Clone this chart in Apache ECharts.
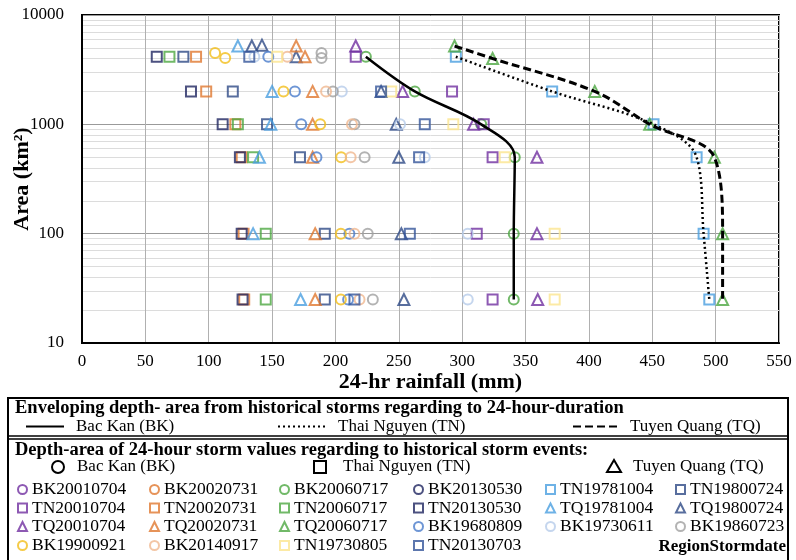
<!DOCTYPE html>
<html>
<head>
<meta charset="utf-8">
<script src="https://cdn.jsdelivr.net/npm/echarts@6/dist/echarts.min.js"></script>
<style>
  html, body { margin: 0; padding: 0; background: #fff; }
  #chart { width: 796px; height: 560px; }
</style>
</head>
<body>
<div id="chart"></div>
<script>
// x axis ticks (mm) and y axis ticks (km2)
var xTicks = [0, 50, 100, 150, 200, 250, 300, 350, 400, 450, 500, 550];
var yTicks = [10, 100, 1000, 10000];

// enveloping curves, [rainfall mm, area km2]
var envBK = [[224, 4150], [262.6, 2000], [315, 1000], [341.5, 500], [340.7, 100], [340.7, 25]];
var envTN = [[295, 4150], [371, 2000], [451, 1000], [485, 500], [490.5, 100], [495, 25]];
var envTQ = [[294, 5200], [324, 4000], [404.6, 2000], [448, 1000], [499, 500], [505.5, 100], [505.5, 25]];

// storm events, [rainfall mm, area km2]
var BK20010704 = [];
var BK20020731 = [];
var BK20060717 = [[224, 4150], [262.6, 2000], [315, 1000], [341.5, 500], [340.7, 100], [340.7, 25]];
var BK20130530 = [];
var TN19781004 = [[295, 4150], [371, 2000], [451, 1000], [485, 500], [490.5, 100], [495, 25]];
var TN19800724 = [[80, 4150], [119, 2000], [146, 1000], [172, 500], [191.6, 100], [191.6, 25]];
var TN20010704 = [[216, 4150], [292, 2000], [317, 1000], [324, 500], [311.5, 100], [324, 25]];
var TN20020731 = [[90, 4150], [98, 2000], [121, 1000], [126, 500], [127.5, 100], [128, 25]];
var TN20060717 = [[69, 4150], [123, 1000], [135, 500], [145, 100], [145, 25]];
var TN20130530 = [[59, 4150], [86, 2000], [111, 1000], [124.6, 500], [126, 100], [126.7, 25]];
var TQ19781004 = [[123, 5200], [150, 2000], [149, 1000], [140, 500], [135, 100], [172.5, 25]];
var TQ19800724 = [[134, 5200], [142, 5300], [169, 4150], [236, 2000], [248, 1000], [250, 500], [252, 100], [254, 25]];
var TQ20010704 = [[216, 5200], [253, 2000], [309, 1000], [359, 500], [359, 100], [359.6, 25]];
var TQ20020731 = [[169, 5200], [176, 4150], [182, 2000], [182, 1000], [182, 500], [184, 100], [184, 25]];
var TQ20060717 = [[294, 5200], [324, 4000], [404.6, 2000], [448, 1000], [499, 500], [505.5, 100], [505.5, 25]];
var BK19680809 = [[147, 4150], [168, 2000], [173, 1000], [185, 500], [211, 100], [210, 25]];
var BK19730611 = [[136, 4150], [205, 2000], [251, 1000], [270.5, 500], [304.4, 100], [304.4, 25]];
var BK19860723 = [[189, 4500], [189, 4050], [198, 2000], [215, 1000], [223, 500], [225.5, 100], [229.5, 25]];
var BK19900921 = [[105, 4500], [113, 4050], [159, 2000], [188, 1000], [204.5, 500], [204.3, 100], [204.3, 25]];
var BK20140917 = [[162, 4150], [192.6, 2000], [213, 1000], [212, 500], [215, 100], [219, 25]];
var TN19730805 = [[154, 4150], [244, 2000], [293, 1000], [333.6, 500], [373, 100], [373, 25]];
var TN20130703 = [[132, 4150], [236, 2000], [270.5, 1000], [266, 500], [258.7, 100], [215, 25]];

var serif = '"Liberation Serif", "DejaVu Serif", serif';

// name, data, symbol, colour
var storms = [
  ['BK20010704', BK20010704, 'circle', '#7030A0'],
  ['BK20020731', BK20020731, 'circle', '#E0782F'],
  ['BK20060717', BK20060717, 'circle', '#4EA842'],
  ['BK20130530', BK20130530, 'circle', '#1F2560'],
  ['TN19781004', TN19781004, 'rect', '#4A9FE0'],
  ['TN19800724', TN19800724, 'rect', '#2E4A86'],
  ['TN20010704', TN20010704, 'rect', '#7030A0'],
  ['TN20020731', TN20020731, 'rect', '#E0782F'],
  ['TN20060717', TN20060717, 'rect', '#4EA842'],
  ['TN20130530', TN20130530, 'rect', '#1F2560'],
  ['TQ19781004', TQ19781004, 'triangle', '#4A9FE0'],
  ['TQ19800724', TQ19800724, 'triangle', '#2E4A86'],
  ['TQ20010704', TQ20010704, 'triangle', '#7030A0'],
  ['TQ20020731', TQ20020731, 'triangle', '#E0782F'],
  ['TQ20060717', TQ20060717, 'triangle', '#4EA842'],
  ['BK19680809', BK19680809, 'circle', '#4A7CCB'],
  ['BK19730611', BK19730611, 'circle', '#B7CCEA'],
  ['BK19860723', BK19860723, 'circle', '#A0A0A0'],
  ['BK19900921', BK19900921, 'circle', '#F2BE1A'],
  ['BK20140917', BK20140917, 'circle', '#F0B890'],
  ['TN19730805', TN19730805, 'rect', '#FBE58E'],
  ['TN20130703', TN20130703, 'rect', '#34559A']
];

var series = [];
storms.forEach(function (s) {
  series.push({
    name: s[0],
    type: 'scatter',
    symbol: s[2],
    symbolSize: s[2] == 'triangle' ? 11 : 10,
    itemStyle: { color: 'transparent', borderColor: s[3], borderWidth: 2 },
    data: s[1],
    z: 3
  });
});

series.push({
  name: 'Bac Kan (BK)', type: 'line', data: envBK, smooth: 0.35, symbol: 'none',
  lineStyle: { color: '#000', width: 2.5, type: 'solid' }, z: 4
});
series.push({
  name: 'Thai Nguyen (TN)', type: 'line', data: envTN, smooth: 0.35, symbol: 'none',
  lineStyle: { color: '#000', width: 2.5, type: [2, 3] }, z: 4
});
series.push({
  name: 'Tuyen Quang (TQ)', type: 'line', data: envTQ, smooth: 0.35, symbol: 'none',
  lineStyle: { color: '#000', width: 3, type: [8, 4] }, z: 4
});

// legends: envelope lines, one per item
var legends = [
  { left: 25, name: 'Bac Kan (BK)', w: 38 },
  { left: 277, name: 'Thai Nguyen (TN)', w: 48 },
  { left: 572, name: 'Tuyen Quang (TQ)', w: 45 }
].map(function (l) {
  return {
    left: l.left, top: 418, padding: 0, selectedMode: false,
    itemWidth: l.w, itemHeight: 14,
    data: [l.name],
    itemStyle: { color: 'transparent', borderColor: 'transparent', borderWidth: 0 },
    textStyle: { fontFamily: serif, fontSize: 17, color: '#000', padding: [0, 0, 0, 7] }
  };
});

// legends: storm events, a 6 x 4 grid, one legend per cell
var colLeft = [17, 149, 279, 413, 545, 675];
var rowMid = [490, 508.5, 527, 546];
storms.forEach(function (s, i) {
  legends.push({
    left: colLeft[i % 6], top: rowMid[Math.floor(i / 6)] - 9.5, padding: 0, selectedMode: false,
    itemWidth: 9, itemHeight: 9,
    data: [s[0]],
    textStyle: { fontFamily: serif, fontSize: 17.5, color: '#000' }
  });
});

var chart = echarts.init(document.getElementById('chart'));
chart.setOption({
  animation: false,
  backgroundColor: '#fff',
  grid: {
    left: 82, right: 17, top: 15, bottom: 217, show: true,
    borderColor: '#000', borderWidth: 2, outerBoundsMode: 'none', containLabel: false
  },
  xAxis: {
    type: 'value', min: 0, max: 550, interval: 50,
    name: '24-hr rainfall (mm)', nameLocation: 'middle', nameGap: 28, nameMoveOverlap: false,
    nameTextStyle: { fontFamily: serif, fontSize: 22, fontWeight: 'bold', color: '#000' },
    axisLine: { lineStyle: { color: '#000', width: 2 } },
    axisTick: { show: false },
    axisLabel: { fontFamily: serif, fontSize: 17, color: '#000', margin: 10 },
    splitLine: { show: true, lineStyle: { color: '#b0b0b0', width: 1 } }
  },
  yAxis: {
    type: 'log', logBase: 10, min: 10, max: 10000,
    name: 'Area (km²)', nameLocation: 'middle', nameGap: 49, nameMoveOverlap: false,
    nameTextStyle: { fontFamily: serif, fontSize: 22, fontWeight: 'bold', color: '#000' },
    axisLine: { show: true, lineStyle: { color: '#000', width: 2 } },
    axisTick: { show: false },
    axisLabel: {
      fontFamily: serif, fontSize: 17, color: '#000', margin: 18,
      formatter: function (v) { return String(v); }
    },
    splitLine: { show: true, lineStyle: { color: '#9a9a9a', width: 1 } },
    minorTick: { show: false, splitNumber: 9 },
    minorSplitLine: { show: true, lineStyle: { color: '#dcdcdc', width: 1 } }
  },
  legend: legends,
  graphic: [
    { type: 'rect', shape: { x: 8, y: 398, width: 780, height: 200 }, style: { fill: 'none', stroke: '#000', lineWidth: 2 } },
    { type: 'line', shape: { x1: 8, y1: 436, x2: 788, y2: 436 }, style: { stroke: '#000', lineWidth: 1.5 } },
    { type: 'line', shape: { x1: 8, y1: 439, x2: 788, y2: 439 }, style: { stroke: '#000', lineWidth: 1.5 } },
    { type: 'text', left: 15, top: 399, style: { text: 'Enveloping depth- area from historical storms regarding to 24-hour-duration', fontFamily: serif, fontSize: 18.5, fontWeight: 'bold', fill: '#000' } },
    { type: 'text', left: 15, top: 441, style: { text: 'Depth-area of 24-hour storm values regarding to historical storm events:', fontFamily: serif, fontSize: 18.5, fontWeight: 'bold', fill: '#000' } },
    { type: 'circle', shape: { cx: 58, cy: 467, r: 6 }, style: { fill: 'none', stroke: '#000', lineWidth: 2 } },
    { type: 'text', left: 77, top: 458, style: { text: 'Bac Kan (BK)', fontFamily: serif, fontSize: 17, fill: '#000' } },
    { type: 'rect', shape: { x: 314, y: 461, width: 12, height: 12 }, style: { fill: 'none', stroke: '#000', lineWidth: 2 } },
    { type: 'text', left: 343, top: 458, style: { text: 'Thai Nguyen (TN)', fontFamily: serif, fontSize: 17, fill: '#000' } },
    { type: 'polygon', shape: { points: [[607, 472], [621, 472], [614, 460]] }, style: { fill: 'none', stroke: '#000', lineWidth: 2 } },
    { type: 'text', left: 633, top: 458, style: { text: 'Tuyen Quang (TQ)', fontFamily: serif, fontSize: 17, fill: '#000' } },
    { type: 'text', right: 10, top: 538, style: { text: 'RegionStormdate', fontFamily: serif, fontSize: 17, fontWeight: 'bold', fill: '#000' } }
  ],
  series: series
});
</script>
</body>
</html>
